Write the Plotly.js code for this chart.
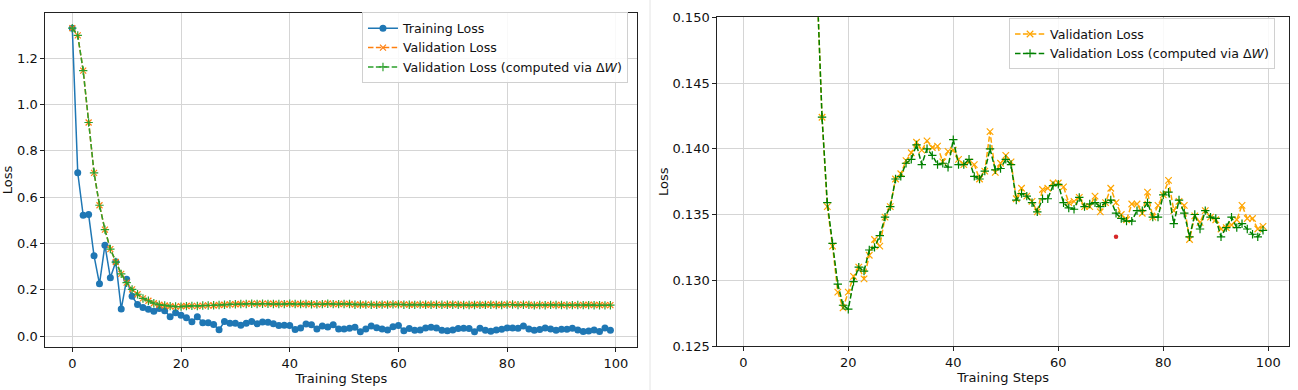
<!DOCTYPE html>
<html>
<head>
<meta charset="utf-8">
<script src="https://cdn.plot.ly/plotly-3.0.1.min.js"></script>
<style>html,body{margin:0;padding:0;background:#fff;}#chart{width:1298px;height:390px;}</style>
</head>
<body>
<div id="chart"></div>
<script>
const steps = [0,1,2,3,4,5,6,7,8,9,10,11,12,13,14,15,16,17,18,19,20,21,22,23,24,25,26,27,28,29,30,31,32,33,34,35,36,37,38,39,40,41,42,43,44,45,46,47,48,49,50,51,52,53,54,55,56,57,58,59,60,61,62,63,64,65,66,67,68,69,70,71,72,73,74,75,76,77,78,79,80,81,82,83,84,85,86,87,88,89,90,91,92,93,94,95,96,97,98,99];

const trainingLoss = [1.329,0.705,0.522,0.525,0.347,0.226,0.393,0.252,0.321,0.117,
0.246,0.172,0.137,0.124,0.116,0.108,0.120,0.110,0.084,0.101,
0.091,0.080,0.062,0.084,0.058,0.058,0.051,0.028,0.063,0.056,
0.056,0.047,0.056,0.064,0.054,0.061,0.060,0.054,0.046,0.047,
0.046,0.029,0.036,0.053,0.050,0.031,0.044,0.040,0.050,0.031,
0.031,0.034,0.039,0.019,0.031,0.044,0.037,0.031,0.027,0.041,
0.046,0.024,0.033,0.026,0.027,0.036,0.039,0.036,0.026,0.024,
0.027,0.033,0.034,0.033,0.019,0.034,0.026,0.021,0.027,0.030,
0.036,0.036,0.034,0.044,0.031,0.026,0.029,0.036,0.031,0.026,
0.030,0.030,0.034,0.027,0.020,0.023,0.027,0.020,0.036,0.026];

const validationLoss = [1.329,1.298,1.146,0.922,0.705,0.565,0.460,0.376,0.320,0.269,
0.231,0.202,0.181,0.163,0.153,0.1424,0.1356,0.1326,0.1291,0.1279,
0.1291,0.1303,0.1310,0.1301,0.1319,0.1331,0.1326,0.1348,0.1356,0.1377,
0.1381,0.1391,0.1397,0.1405,0.1399,0.1406,0.1401,0.1402,0.1390,0.1398,
0.1399,0.1392,0.1388,0.1390,0.1388,0.1377,0.1383,0.1413,0.1382,0.1389,
0.1395,0.1390,0.1362,0.1370,0.1364,0.1360,0.1352,0.1369,0.1370,0.1374,
0.1374,0.1371,0.1359,0.1360,0.1363,0.1356,0.1356,0.1364,0.1352,0.1359,
0.1370,0.1359,0.1350,0.1346,0.1358,0.1358,0.1351,0.1367,0.1348,0.1357,
0.1365,0.1376,0.1353,0.1360,0.1357,0.1331,0.1349,0.1344,0.1353,0.1348,
0.1346,0.1339,0.1340,0.1342,0.1346,0.1357,0.1347,0.1347,0.1339,0.1341];

const validationLossDW = [1.329,1.298,1.146,0.922,0.705,0.565,0.460,0.376,0.320,0.269,
0.231,0.202,0.181,0.163,0.153,0.1424,0.1359,0.1328,0.1297,0.1281,
0.1278,0.1299,0.1310,0.1307,0.1323,0.1325,0.1334,0.1348,0.1356,0.1377,
0.1379,0.1389,0.1392,0.1403,0.1388,0.1400,0.1395,0.1388,0.1389,0.1386,
0.1407,0.1388,0.1388,0.1392,0.1379,0.1377,0.1383,0.1400,0.1384,0.1385,
0.1392,0.1388,0.1361,0.1366,0.1364,0.1359,0.1352,0.1362,0.1362,0.1372,
0.1373,0.1359,0.1355,0.1354,0.1363,0.1356,0.1358,0.1359,0.1356,0.1359,
0.1361,0.1351,0.1347,0.1345,0.1345,0.1353,0.1353,0.1359,0.1348,0.1348,
0.1365,0.1367,0.1343,0.1361,0.1351,0.1333,0.1350,0.1339,0.1353,0.1348,
0.1347,0.1333,0.1340,0.1348,0.1340,0.1343,0.1339,0.1335,0.1333,0.1338];

const redPointStep = [71];
const redPointLoss = [0.1333];

const leftYTicks = [0.0,0.2,0.4,0.6,0.8,1.0,1.2];
const rightYTicks = [0.125,0.130,0.135,0.140,0.145,0.150];
const xTicks = [0,20,40,60,80,100];

const FONT = 'DejaVu Sans, Liberation Sans, sans-serif';
const dashPat = '5.5px,2.4px';

const traces = [
  {x: steps, y: trainingLoss, name: 'Training Loss', type: 'scatter', mode: 'lines+markers',
   line: {color: '#1f77b4', width: 1.5}, marker: {symbol: 'circle', size: 7, color: '#1f77b4'},
   xaxis: 'x', yaxis: 'y', legend: 'legend'},
  {x: steps, y: validationLoss, name: 'Validation Loss', type: 'scatter', mode: 'lines+markers',
   line: {color: '#ff7f0e', width: 1.5, dash: dashPat},
   marker: {symbol: 'x-thin', size: 6, line: {color: '#ff7f0e', width: 1.2}},
   xaxis: 'x', yaxis: 'y', legend: 'legend'},
  {x: steps, y: validationLossDW, name: 'Validation Loss (computed via Δ<i>W</i>)', type: 'scatter', mode: 'lines+markers',
   line: {color: '#2ca02c', width: 1.5, dash: dashPat},
   marker: {symbol: 'cross-thin', size: 6, line: {color: '#2ca02c', width: 1.2}},
   xaxis: 'x', yaxis: 'y', legend: 'legend'},
  {x: steps, y: validationLoss, name: 'Validation Loss', type: 'scatter', mode: 'lines+markers',
   line: {color: '#FFA500', width: 1.5, dash: dashPat},
   marker: {symbol: 'x-thin', size: 6.5, line: {color: '#FFA500', width: 1.2}},
   xaxis: 'x2', yaxis: 'y2', legend: 'legend2'},
  {x: steps, y: validationLossDW, name: 'Validation Loss (computed via Δ<i>W</i>)', type: 'scatter', mode: 'lines+markers',
   line: {color: '#008000', width: 1.5, dash: dashPat},
   marker: {symbol: 'cross-thin', size: 6, line: {color: '#008000', width: 1.2}},
   xaxis: 'x2', yaxis: 'y2', legend: 'legend2'},
  {x: redPointStep, y: redPointLoss, name: 'point', type: 'scatter', mode: 'markers',
   marker: {symbol: 'circle', size: 4.5, color: '#d62728'}, showlegend: false,
   xaxis: 'x2', yaxis: 'y2'}
];

const axisCommon = {
  showline: true, mirror: true, linecolor: '#222', linewidth: 1,
  ticks: 'outside', ticklen: 4, tickwidth: 1, tickcolor: '#222',
  showgrid: true, gridcolor: '#d5d5d5', gridwidth: 1, zeroline: false,
  tickfont: {family: FONT, size: 13, color: '#111'}
};

const legendCommon = {
  bgcolor: 'rgba(255,255,255,0.85)', bordercolor: '#d0d0d0', borderwidth: 1,
  font: {family: FONT, size: 12.6, color: '#111'}, xanchor: 'right', yanchor: 'top',
  itemwidth: 30, tracegroupgap: 0
};

const layout = {
  width: 1298, height: 390,
  margin: {l: 0, r: 0, t: 0, b: 0},
  paper_bgcolor: '#fff', plot_bgcolor: '#fff',
  font: {family: FONT, size: 13, color: '#111'},
  xaxis: Object.assign({}, axisCommon, {
    domain: [0.03498, 0.49099], range: [-4.95, 103.95], tickvals: xTicks,
    title: {text: 'Training Steps', font: {family: FONT, size: 13, color: '#111'}, standoff: 0},
    anchor: 'y'
  }),
  yaxis: Object.assign({}, axisCommon, {
    domain: [0.11026, 0.96667], range: [-0.0465, 1.3945], tickvals: leftYTicks, tickformat: '.1f',
    title: {text: 'Loss', font: {family: FONT, size: 13, color: '#111'}, standoff: 6},
    anchor: 'x'
  }),
  xaxis2: Object.assign({}, axisCommon, {
    domain: [0.55262, 0.99307], range: [-4.95, 103.95], tickvals: xTicks,
    title: {text: 'Training Steps', font: {family: FONT, size: 13, color: '#111'}, standoff: 0},
    anchor: 'y2'
  }),
  yaxis2: Object.assign({}, axisCommon, {
    domain: [0.11282, 0.95564], range: [0.125, 0.150], tickvals: rightYTicks, tickformat: '.3f',
    title: {text: 'Loss', font: {family: FONT, size: 13, color: '#111'}, standoff: 0},
    anchor: 'x2'
  }),
  legend: Object.assign({}, legendCommon, {x: 0.4838, y: 0.968}),
  legend2: Object.assign({}, legendCommon, {x: 0.9823, y: 0.953}),
  shapes: [
    {type: 'line', xref: 'paper', yref: 'paper', x0: 0.5008, x1: 0.5008, y0: 0, y1: 1,
     line: {color: '#e4e4e4', width: 1}}
  ]
};

Plotly.newPlot('chart', traces, layout, {displayModeBar: false, staticPlot: true});
</script>
</body>
</html>
